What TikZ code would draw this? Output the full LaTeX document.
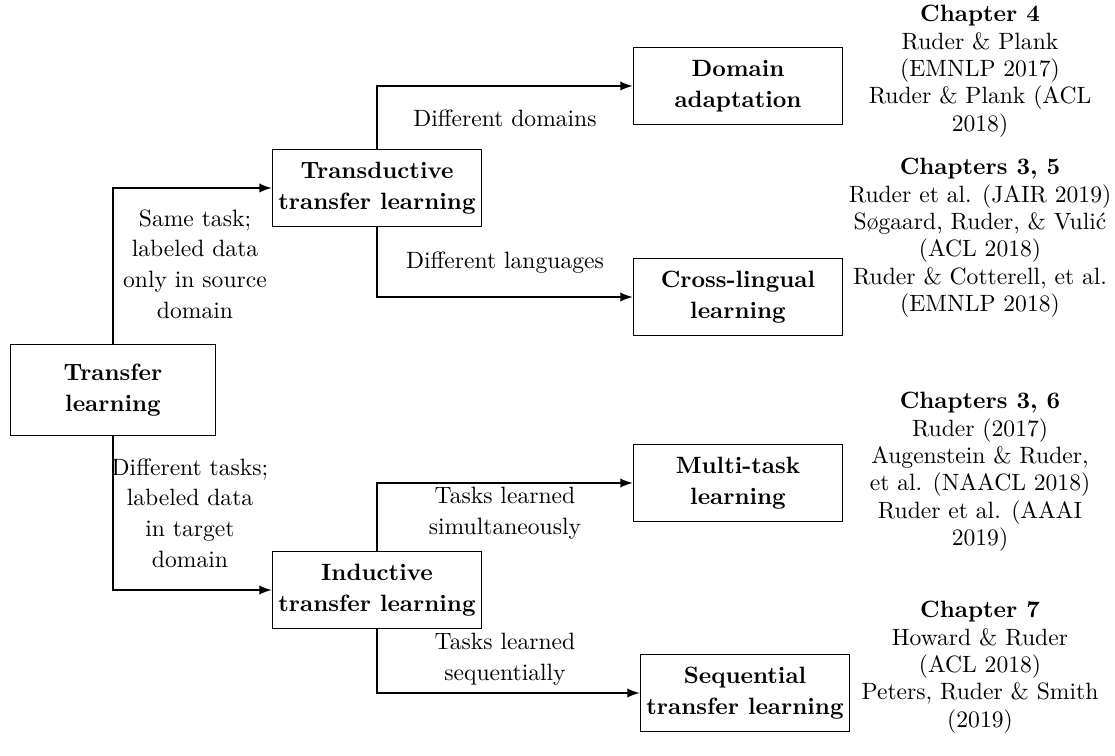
\documentclass[tikz,border=0pt]{standalone}
\usepackage{amsmath}
\usepackage{tikz}
\usetikzlibrary{calc}

\begin{document}
\begin{tikzpicture}[x=0.424pt,y=-0.424pt,>=latex,
        box/.style={draw,align=center,font=\bfseries\fontsize{10}{13}\selectfont,
                    minimum width=89pt,minimum height=32.6pt,inner sep=2pt},
        lbl/.style={align=center,font=\fontsize{10}{13}\selectfont,inner sep=0pt},
        refs/.style={align=center,anchor=north,font=\fontsize{10}{11.6}\selectfont,inner sep=0pt}]
        \useasboundingbox (0,0) rectangle (1115,756);

        % Draw the boxes
        \node[box,minimum width=86.9pt,minimum height=38.2pt] (tl) at (113,390) {Transfer\\learning};
        \node[box] (td) at (377,188) {Transductive\\transfer learning};
        \node[box] (il) at (377,590) {Inductive\\transfer learning};
        \node[box] (da) at (738,86) {Domain\\adaptation};
        \node[box] (cl) at (738,297) {Cross-lingual\\learning};
        \node[box] (mt) at (738,483) {Multi-task\\learning};
        \node[box] (sq) at (745,693) {Sequential\\transfer learning};

        % Draw the arrows between the boxes
        \draw[thick,->] (tl.north) |- (td.west);
        \draw[thick,->] (tl.south) |- (il.west);
        \draw[thick,->] (td.north) |- (da.west);
        \draw[thick,->] (td.south) |- (cl.west);
        \draw[thick,->] (il.north) |- (mt.west);
        \draw[thick,->] (il.south) |- (sq.west);

        % Label the arrows
        \node[lbl] (same) at (195,264) {Same task;\\labeled data\\only in source\\domain};
        \node[lbl] (diff) at (190,513) {Different tasks;\\labeled data\\in target\\domain};
        \node[lbl] (doms) at (505,118) {Different domains};
        \node[lbl] (langs) at (505,263) {Different languages};
        \node[lbl] (simul) at (505,513) {Tasks learned\\simultaneously};
        \node[lbl] (seq) at (505,659) {Tasks learned\\sequentially};

        % Chapters and papers
        \node[refs] (ch4) at (980,5) {\textbf{Chapter 4}\\Ruder \& Plank\\(EMNLP 2017)\\Ruder \& Plank (ACL\\2018)};
        \node[refs] (ch35) at (980,158) {\textbf{Chapters 3, 5}\\Ruder et al. (JAIR 2019)\\S\o{}gaard, Ruder, \& Vuli\'c\\(ACL 2018)\\Ruder \& Cotterell, et al.\\(EMNLP 2018)};
        \node[refs] (ch36) at (980,392) {\textbf{Chapters 3, 6}\\Ruder (2017)\\Augenstein \& Ruder,\\et al. (NAACL 2018)\\Ruder et al. (AAAI\\2019)};
        \node[refs] (ch7) at (980,601) {\textbf{Chapter 7}\\Howard \& Ruder\\(ACL 2018)\\Peters, Ruder \& Smith\\(2019)};
    \end{tikzpicture}
\end{document}
